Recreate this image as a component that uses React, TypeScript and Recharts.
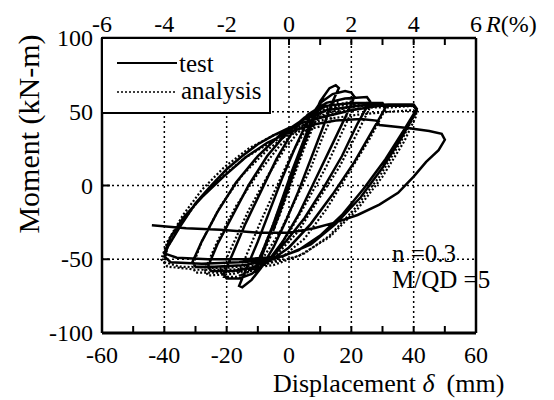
import React from 'react';
import { LineChart, Line, XAxis, YAxis, ReferenceLine } from 'recharts';

// axis ticks
const dispTicks = [-60, -50, -40, -30, -20, -10, 0, 10, 20, 30, 40, 50, 60];
const dispLabels = [-60, -40, -20, 0, 20, 40, 60];
const driftTicks = [-6, -5, -4, -3, -2, -1, 0, 1, 2, 3, 4, 5, 6];
const driftLabels = [-6, -4, -2, 0, 2, 4, 6];
const momentTicks = [-100, -50, 0, 50, 100];
const gridDisp = [-40, -20, 0, 20, 40];
const gridMoment = [-50, 0, 50];

// test (solid) — [displacement mm, moment kN-m], one array per amplitude
const test5 = [[0, 0], [2, 12], [4, 24], [5, 30], [4, 24], [1, 6], [-2, -12], [-4, -24], [-5, -30], [-4, -24], [-1, -6], [2, 12]];
const test10 = [[5, 30], [7, 42], [9, 52], [10, 57], [11, 60], [10, 55], [7, 40], [3, 18], [-1, -4], [-5, -26], [-8, -42], [-10, -52], [-11, -58], [-10, -55], [-7, -38], [-3, -14], [1, 10], [5, 32], [8, 48]];
const test15 = [[11, 60], [13, 66], [15, 68], [16, 66], [14, 57], [11, 40], [7, 18], [3, -4], [-1, -24], [-5, -42], [-9, -56], [-12, -64], [-15, -69], [-16, -68], [-14, -58], [-10, -38], [-6, -16], [-2, 6], [2, 26], [6, 44], [10, 56]];
const test20 = [[14, 62], [18, 64], [20, 63], [21, 60], [18, 46], [13, 24], [8, 2], [3, -20], [-2, -38], [-7, -52], [-12, -60], [-16, -63], [-20, -63], [-21, -60], [-18, -46], [-14, -26], [-9, -4], [-4, 18], [1, 36], [6, 48], [12, 56]];
const test25 = [[18, 59], [25, 60], [26, 57], [22, 42], [17, 20], [11, -2], [5, -22], [-1, -38], [-6, -50], [-12, -56], [-18, -58], [-25, -58], [-26, -55], [-23, -40], [-18, -20], [-13, 0], [-7, 20], [-1, 35], [5, 46], [12, 54]];
const test30 = [[20, 56], [30, 56], [31, 53], [27, 38], [21, 16], [14, -6], [7, -26], [0, -42], [-6, -51], [-15, -54], [-24, -55], [-30, -55], [-31, -52], [-28, -38], [-23, -18], [-17, 2], [-10, 20], [-3, 34], [4, 44], [12, 51]];
const test40 = [[22, 54], [32, 55], [40, 55], [41, 52], [37, 38], [31, 18], [24, -2], [17, -20], [10, -34], [3, -44], [-5, -50], [-16, -52], [-28, -53], [-38, -52], [-40, -48], [-39, -42], [-35, -28], [-30, -12], [-25, 0], [-20, 11], [-15, 20], [-10, 28], [-5, 34], [0, 39], [5, 43], [12, 47], [20, 51], [29, 54], [40, 54], [41, 51], [36, 32], [30, 12], [23, -8], [15, -26], [7, -40], [-2, -48], [-14, -50], [-26, -50], [-36, -49], [-40, -46], [-38, -35], [-34, -22], [-28, -8], [-21, 6], [-14, 19], [-7, 29], [0, 36], [7, 41], [15, 44], [23, 45], [28, 44]];
const testLast = [[29, 41], [38, 39], [45, 37], [49, 35], [50, 31], [48, 24], [44, 16], [40, 6], [35, -5], [29, -13], [22, -20], [15, -25], [8, -29], [0, -32], [-10, -32], [-22, -30], [-33, -29], [-44, -27]];

// analysis (dotted)
const anal5 = [[0, 0], [2, 13], [4, 25], [5, 31], [4, 26], [1, 8], [-2, -12], [-4, -25], [-5, -31], [-4, -25], [-1, -7], [2, 11]];
const anal10 = [[5, 30], [8, 45], [10, 53], [11, 55], [9, 46], [5, 26], [1, 3], [-3, -20], [-7, -40], [-10, -52], [-11, -56], [-9, -47], [-5, -26], [-1, -3], [3, 19], [7, 38]];
const anal15 = [[11, 51], [14, 56], [16, 57], [15, 52], [11, 34], [7, 12], [2, -10], [-3, -32], [-8, -48], [-12, -57], [-15, -61], [-16, -59], [-13, -44], [-9, -24], [-4, -1], [1, 22], [6, 40], [11, 51]];
const anal20 = [[16, 55], [20, 57], [21, 54], [17, 36], [12, 13], [6, -10], [0, -32], [-5, -47], [-11, -57], [-17, -62], [-21, -62], [-22, -58], [-18, -40], [-13, -17], [-7, 6], [-1, 26], [5, 41], [11, 50], [16, 54]];
const anal25 = [[25, 56], [26, 53], [22, 36], [16, 12], [9, -11], [3, -31], [-4, -47], [-11, -56], [-18, -60], [-26, -61], [-27, -57], [-23, -38], [-17, -14], [-10, 8], [-3, 27], [4, 40], [12, 49], [19, 53]];
const anal30 = [[30, 55], [31, 52], [26, 32], [19, 8], [12, -16], [5, -36], [-3, -50], [-12, -57], [-22, -59], [-30, -59], [-31, -55], [-28, -38], [-22, -14], [-15, 7], [-7, 24], [1, 37], [9, 46], [18, 51], [26, 53]];
const anal40 = [[33, 53], [40, 54], [41, 51], [36, 30], [29, 6], [21, -16], [13, -34], [5, -46], [-5, -54], [-18, -57], [-30, -57], [-39, -55], [-41, -50], [-39, -38], [-34, -20], [-28, -3], [-21, 12], [-13, 25], [-5, 34], [3, 40], [12, 45], [22, 48], [32, 50], [40, 51], [41, 48], [37, 30], [30, 6], [22, -16], [13, -35], [3, -48], [-9, -54], [-22, -56], [-35, -55], [-40, -52], [-39, -42], [-35, -27], [-29, -10], [-22, 5], [-14, 19], [-6, 29], [2, 36], [10, 40]];

const toPoints = (...cycles: number[][][]) =>
  cycles.flat().map(([x, y]) => ({ x, y }));

const testData = toPoints(test5, test10, test15, test20, test25, test30, test40, testLast);
const analysisData = toPoints(anal5, anal10, anal15, anal20, anal25, anal30, anal40);

const BottomTick = (props: any) => {
  const { x, y, payload } = props;
  const v = payload.value;
  return (
    <g>
      <line x1={x} y1={y} x2={x} y2={y - 7} stroke="#000" strokeWidth={2} />
      {dispLabels.includes(v) && (
        <text x={x} y={y + 30} textAnchor="middle" fontSize={24} fill="#000">
          {v}
        </text>
      )}
    </g>
  );
};

const TopTick = (props: any) => {
  const { x, y, payload } = props;
  const v = payload.value;
  return (
    <g>
      <line x1={x} y1={y} x2={x} y2={y + 7} stroke="#000" strokeWidth={2} />
      {driftLabels.includes(v) && (
        <text x={x} y={y - 6} textAnchor="middle" fontSize={24} fill="#000">
          {v}
        </text>
      )}
      {v === 6 && (
        <text x={x + 10} y={y - 6} textAnchor="start" fontSize={24} fill="#000">
          <tspan fontStyle="italic">R</tspan>(%)
        </text>
      )}
    </g>
  );
};

const LeftTick = (props: any) => {
  const { x, y, payload } = props;
  return (
    <g>
      <line x1={x} y1={y} x2={x + 8} y2={y} stroke="#000" strokeWidth={2} />
      <text x={x - 9} y={y} textAnchor="end" dominantBaseline="central" fontSize={24} fill="#000">
        {payload.value}
      </text>
    </g>
  );
};

export default function App() {
  return (
    <div style={{ position: 'absolute', left: 0, top: 0, width: 554, height: 400, background: '#fff' }}>
      <LineChart width={554} height={400} margin={{ top: 8, right: 78, bottom: 37, left: 0 }}>
        <XAxis
          xAxisId="d"
          type="number"
          dataKey="x"
          domain={[-60, 60]}
          ticks={dispTicks}
          interval={0}
          allowDataOverflow
          tickSize={0}
          tickMargin={0}
          height={30}
          tick={<BottomTick />}
          axisLine={{ stroke: '#000', strokeWidth: 3 }}
        />
        <XAxis
          xAxisId="r"
          orientation="top"
          type="number"
          dataKey="x"
          domain={[-6, 6]}
          ticks={driftTicks}
          interval={0}
          allowDataOverflow
          tickSize={0}
          tickMargin={0}
          height={30}
          tick={<TopTick />}
          axisLine={{ stroke: '#000', strokeWidth: 2.5 }}
        />
        <YAxis
          yAxisId="m"
          type="number"
          domain={[-100, 100]}
          ticks={momentTicks}
          interval={0}
          allowDataOverflow
          tickSize={0}
          tickMargin={0}
          width={102}
          tick={<LeftTick />}
          axisLine={{ stroke: '#000', strokeWidth: 2.5 }}
        />
        {gridDisp.map((v) => (
          <ReferenceLine key={'gx' + v} xAxisId="d" yAxisId="m" x={v} stroke="#000" strokeWidth={1.5} strokeDasharray="2 3" />
        ))}
        {gridMoment.map((v) => (
          <ReferenceLine key={'gy' + v} xAxisId="d" yAxisId="m" y={v} stroke="#000" strokeWidth={1.5} strokeDasharray="2 3" />
        ))}
        <ReferenceLine xAxisId="d" yAxisId="m" x={60} stroke="#000" strokeWidth={2.5} />
        <Line
          xAxisId="d"
          yAxisId="m"
          data={analysisData}
          dataKey="y"
          stroke="#000"
          strokeWidth={2.2}
          strokeDasharray="2 2"
          dot={false}
          type="linear"
          isAnimationActive={false}
        />
        <Line
          xAxisId="d"
          yAxisId="m"
          data={testData}
          dataKey="y"
          stroke="#000"
          strokeWidth={2.5}
          dot={false}
          type="linear"
          isAnimationActive={false}
        />
      </LineChart>
      <svg width={554} height={400} style={{ position: 'absolute', left: 0, top: 0, pointerEvents: 'none' }}>
        <rect x={102} y={38} width={168} height={75} fill="#fff" stroke="#000" strokeWidth={2} />
        <line x1={117} y1={63} x2={177} y2={63} stroke="#000" strokeWidth={2} />
        <text x={179} y={72} fontSize={25} fill="#000">test</text>
        <line x1={117} y1={92} x2={177} y2={92} stroke="#000" strokeWidth={1.5} strokeDasharray="2 2" />
        <text x={181} y={99} fontSize={25} fill="#000">analysis</text>
        <text transform="translate(28,134) rotate(-90)" textAnchor="middle" dominantBaseline="central" fontSize={30} fill="#000">
          Moment (kN-m)
        </text>
        <text x={273} y={392} fontSize={26} fill="#000">
          Displacement <tspan fontStyle="italic">δ</tspan>
          <tspan dx={12}>(mm)</tspan>
        </text>
        <text x={392} y={262} fontSize={25} fill="#000">n =0.3</text>
        <text x={392} y={288} fontSize={25} fill="#000">M/QD =5</text>
      </svg>
    </div>
  );
}
